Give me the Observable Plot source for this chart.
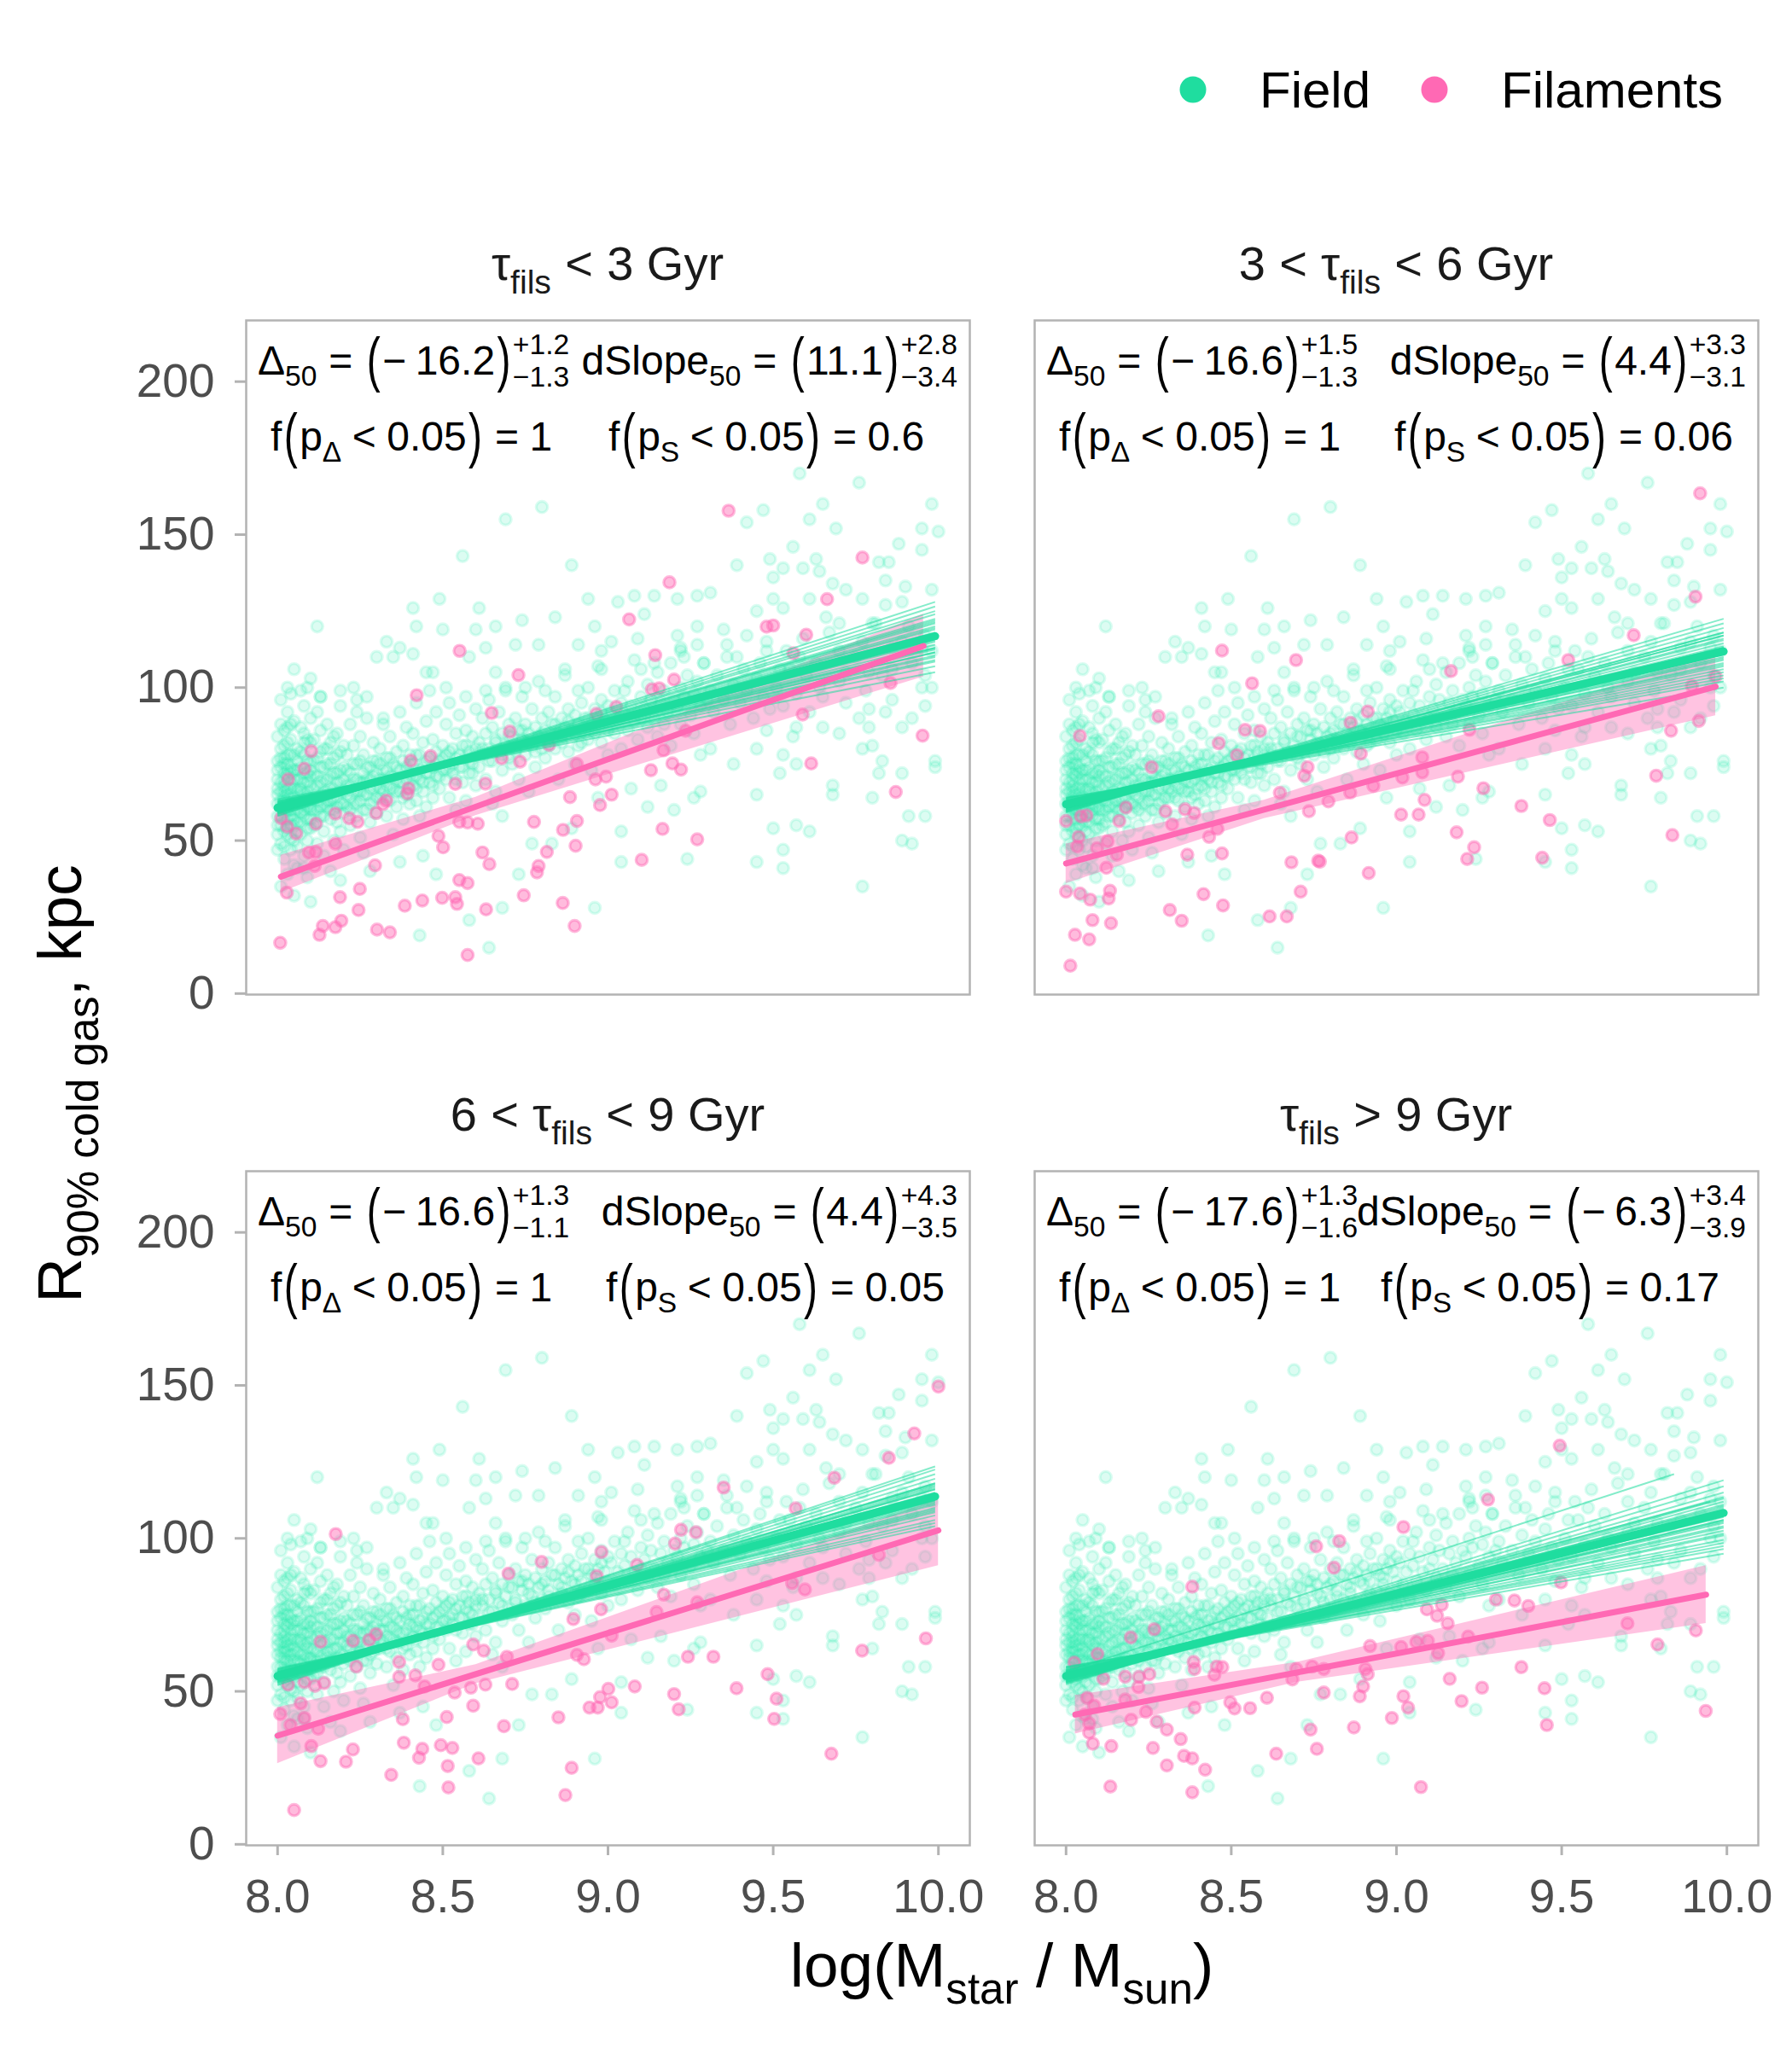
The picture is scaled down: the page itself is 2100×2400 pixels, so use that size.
<!DOCTYPE html>
<html><head><meta charset="utf-8">
<script src="https://cdn.jsdelivr.net/npm/d3@7"></script>
<script src="https://cdn.jsdelivr.net/npm/@observablehq/plot@0.6"></script>
<style>
body{margin:0;background:#fff;}
#root{position:relative;width:2100px;height:2400px;background:#fff;overflow:hidden;}
</style></head>
<body><div id="root"></div>
<script>
// ---------------- DATA ----------------
const xTicks = [8.0, 8.5, 9.0, 9.5, 10.0];
const yTicks = [0, 50, 100, 150, 200];
const seriesNames = ["Field", "Filaments"];
const panelTitles = [["τ", "fils", "< 3 Gyr", null], ["3 <", "τ", "fils", "< 6 Gyr"], ["6 <", "τ", "fils", "< 9 Gyr"], ["τ", "fils", "> 9 Gyr", null]];
const deltaTxt = [["−16.2", "+1.2", "−1.3"], ["−16.6", "+1.5", "−1.3"], ["−16.6", "+1.3", "−1.1"], ["−17.6", "+1.3", "−1.6"]];
const slopeTxt = [["11.1", "+2.8", "−3.4"], ["4.4", "+3.3", "−3.1"], ["4.4", "+4.3", "−3.5"], ["−6.3", "+3.4", "−3.9"]];
const fpDelta = ["1", "1", "1", "1"];
const fpSlope = ["0.6", "0.06", "0.05", "0.17"];

// field galaxies (shared by all four panels): dense core
const fieldCore = [
[8.00,62],[8.00,70],[8.00,55],[8.01,66],[8.01,74],[8.01,58],[8.01,49],[8.01,80],[8.02,63],[8.02,68],[8.02,77],[8.02,53],[8.02,86],[8.02,44],[8.03,60],[8.03,65],[8.03,71],[8.03,57],[8.03,92],[8.03,39],[8.03,75],[8.04,62],[8.04,69],[8.04,51],[8.04,83],[8.04,58],[8.04,47],[8.04,72],[8.05,64],[8.05,60],[8.05,78],[8.05,55],[8.05,67],[8.05,89],[8.00,76],[8.00,47],[8.01,96],[8.02,59],[8.03,82],[8.04,65],[8.00,67],[8.01,61],[8.02,72],[8.03,52],[8.04,98],[8.05,42],[8.01,35],[8.03,100],[8.02,64],[8.04,78],
[8.06,63],[8.06,70],[8.06,56],[8.06,80],[8.06,48],[8.07,66],[8.07,59],[8.07,74],[8.07,87],[8.07,52],[8.08,62],[8.08,69],[8.08,78],[8.08,45],[8.08,94],[8.09,64],[8.09,57],[8.09,72],[8.09,83],[8.09,50],[8.10,61],[8.10,68],[8.10,76],[8.10,54],[8.10,90],[8.06,73],[8.07,67],[8.08,58],[8.09,66],[8.10,71],[8.06,41],[8.08,85],[8.09,38],[8.07,99],[8.10,60],
[8.11,64],[8.11,72],[8.11,55],[8.11,83],[8.12,60],[8.12,68],[8.12,77],[8.12,49],[8.12,92],[8.13,65],[8.13,58],[8.13,74],[8.13,86],[8.14,62],[8.14,70],[8.14,53],[8.14,80],[8.14,45],[8.15,66],[8.15,61],[8.15,75],[8.15,88],[8.16,63],[8.16,71],[8.16,57],[8.16,82],[8.17,67],[8.17,60],[8.17,77],[8.17,50],[8.18,64],[8.18,72],[8.18,85],[8.18,56],[8.19,69],[8.19,62],[8.19,79],[8.19,94],[8.20,66],[8.20,59],[8.20,74],[8.20,47],[8.13,97],[8.16,40],[8.19,53],
[8.21,68],[8.21,61],[8.21,78],[8.22,64],[8.22,72],[8.22,55],[8.22,88],[8.23,70],[8.23,62],[8.23,81],[8.24,66],[8.24,58],[8.24,75],[8.24,96],[8.25,69],[8.25,63],[8.25,84],[8.25,51],[8.26,72],[8.26,65],[8.26,78],[8.27,60],[8.27,70],[8.27,90],[8.28,67],[8.28,74],[8.28,56],[8.29,71],[8.29,63],[8.29,82],[8.30,68],[8.30,76],[8.30,59],[8.26,46],[8.23,100],
[8.31,70],[8.31,64],[8.31,80],[8.32,73],[8.32,66],[8.32,88],[8.33,68],[8.33,58],[8.33,77],[8.34,71],[8.34,63],[8.34,84],[8.35,75],[8.35,67],[8.35,52],[8.36,70],[8.36,79],[8.36,61],[8.37,73],[8.37,92],[8.37,66],[8.38,69],[8.38,81],[8.38,57],[8.39,74],[8.39,65],[8.39,87],[8.40,72],[8.40,62],[8.40,78],
[8.41,75],[8.41,68],[8.41,85],[8.42,71],[8.42,63],[8.42,95],[8.43,78],[8.43,70],[8.43,58],[8.44,74],[8.44,82],[8.44,66],[8.45,72],[8.45,89],[8.45,61],[8.46,77],[8.46,69],[8.46,99],[8.47,74],[8.47,83],[8.47,64],[8.48,79],[8.48,71],[8.48,92],[8.49,76],[8.49,67],[8.50,81],[8.50,73],
[8.51,78],[8.51,70],[8.51,88],[8.52,74],[8.52,64],[8.52,95],[8.53,80],[8.53,72],[8.54,77],[8.54,85],[8.54,60],[8.55,74],[8.55,91],[8.56,81],[8.56,69],[8.57,77],[8.57,86],[8.57,63],[8.58,79],[8.58,72],[8.59,84],[8.59,75],[8.60,80],[8.60,68],[8.60,93],
[8.61,82],[8.61,74],[8.62,78],[8.62,90],[8.63,85],[8.63,70],[8.64,80],[8.64,96],[8.65,76],[8.65,87],[8.66,83],[8.66,66],[8.67,79],[8.67,92],[8.68,85],[8.68,73],[8.69,81],[8.69,100],[8.70,77],[8.70,88],[8.65,62],[8.68,58],
[8.71,84],[8.71,75],[8.72,90],[8.72,80],[8.73,86],[8.73,70],[8.74,83],[8.74,97],[8.75,78],[8.75,88],[8.76,85],[8.76,66],[8.77,81],[8.77,93],[8.78,87],[8.78,74],[8.79,84],[8.79,102],[8.80,80],[8.80,90],
[8.81,86],[8.81,77],[8.82,92],[8.82,83],[8.83,88],[8.84,80],[8.84,97],[8.85,85],[8.85,70],[8.86,90],[8.86,82],[8.87,87],[8.87,104],[8.88,79],[8.88,93],[8.89,86],[8.90,91],[8.90,75],
[8.91,88],[8.91,81],[8.92,95],[8.92,86],[8.93,90],[8.94,83],[8.94,100],[8.95,88],[8.95,73],[8.96,93],[8.96,85],[8.97,90],[8.97,107],[8.98,82],[8.98,96],[8.99,89],[9.00,94],[9.00,78],
[9.01,92],[9.02,85],[9.02,99],[9.03,89],[9.04,95],[9.04,80],[9.05,91],[9.06,102],[9.06,86],[9.07,94],[9.08,89],[9.08,109],[9.09,83],[9.10,97],[9.10,90],
[9.11,93],[9.12,87],[9.12,101],[9.13,96],[9.14,90],[9.15,105],[9.15,84],[9.16,95],[9.17,99],[9.17,88],[9.18,92],[9.19,108],[9.19,81],[9.20,96],
[9.21,94],[9.22,100],[9.22,88],[9.23,97],[9.24,104],[9.25,91],[9.26,98],[9.26,85],[9.27,102],[9.28,94],[9.29,108],[9.30,96],
[9.31,99],[9.32,92],[9.33,104],[9.35,96],[9.36,110],[9.37,88],[9.38,101],[9.40,95],[9.41,106],[9.42,99],[9.44,90],[9.45,103],[9.47,97],[9.48,112],[9.49,93],
[9.51,100],[9.53,94],[9.55,106],[9.57,98],[9.59,116],[9.61,92],[9.63,108],[9.65,97],[9.67,118],[9.70,102],[9.72,95],[9.75,110],[9.78,99],[9.80,121],[9.83,104],[9.86,96],[9.89,115],[9.92,108],[9.95,100],[9.98,112]
];
// more of the crowded low-mass region
const fieldCore2 = [
[8.00,58],[8.00,65],[8.00,73],[8.00,52],[8.00,84],[8.01,63],[8.01,69],[8.01,77],[8.01,55],[8.01,88],[8.02,61],[8.02,66],[8.02,70],[8.02,75],[8.02,81],[8.02,57],[8.02,48],[8.03,63],[8.03,67],[8.03,73],[8.03,78],[8.03,54],[8.03,87],[8.04,60],[8.04,67],[8.04,74],[8.04,55],[8.04,88],[8.05,62],[8.05,70],[8.05,73],[8.05,57],[8.05,50],[8.06,60],[8.06,66],[8.06,76],[8.06,53],[8.07,62],[8.07,70],[8.07,79],[8.07,56],[8.08,65],[8.08,72],[8.08,60],[8.08,82],[8.09,61],[8.09,69],[8.09,76],[8.09,54],[8.10,64],[8.10,73],[8.10,57],[8.10,82],
[8.11,60],[8.11,67],[8.11,76],[8.12,63],[8.12,71],[8.12,56],[8.13,61],[8.13,69],[8.13,79],[8.14,66],[8.14,74],[8.14,58],[8.15,63],[8.15,70],[8.15,80],[8.16,67],[8.16,75],[8.16,60],[8.17,64],[8.17,72],[8.17,84],[8.18,61],[8.18,69],[8.18,78],[8.19,66],[8.19,73],[8.20,62],[8.20,70],[8.20,81],[8.21,65],[8.21,73],[8.22,68],[8.22,60],[8.23,66],[8.23,75],[8.24,62],[8.24,70],[8.25,66],[8.25,76],[8.26,69],[8.26,60],[8.27,65],[8.27,74],[8.28,70],[8.28,62],[8.29,67],[8.29,76],[8.30,64],[8.30,72],
[8.31,67],[8.31,75],[8.32,70],[8.33,64],[8.33,73],[8.34,67],[8.34,77],[8.35,71],[8.36,66],[8.36,74],[8.37,69],[8.38,64],[8.38,76],[8.39,70],[8.40,67],[8.40,75],[8.41,71],[8.42,67],[8.42,78],[8.43,73],[8.44,69],[8.45,76],[8.46,72],[8.47,68],[8.48,75],[8.49,71],[8.50,77],[8.51,73],[8.52,79],[8.53,75],[8.54,70],[8.55,78],[8.56,74],[8.57,81],[8.58,76],[8.59,72],[8.60,78],
[8.62,80],[8.64,76],[8.66,82],[8.68,78],[8.70,84],[8.72,79],[8.74,86],[8.76,82],[8.78,79],[8.80,85],[8.82,81],[8.84,88],[8.86,84],[8.88,89],[8.90,85],[8.92,82],[8.94,90],[8.96,87],[8.98,92],[9.00,86]
];
// field galaxies: individually readable points around the core
const fieldOuter = [
[9.58,170],[9.76,167],[8.69,155],[8.80,159],[9.47,158],[9.65,160],[9.61,155],[9.42,154],[9.98,160],[9.95,152],[10.0,151],[9.69,152],[9.88,147],[9.95,145],[9.56,146],[8.56,143],[8.89,140],[9.39,140],[9.49,142],[9.53,139],[9.59,139],[9.63,142],[9.82,141],[9.85,141],[9.50,136],[9.64,138],[9.68,134],[9.72,132],[9.84,135],[9.90,133],[9.98,132],[8.49,129],[8.41,126],[8.61,126],[9.03,128],[9.08,130],[9.14,130],[9.21,129],[9.27,130],[9.31,131],[9.50,129],[9.53,126],[9.61,129],[9.84,127],[9.89,128],[9.77,129],[8.94,129],[8.12,120],[8.42,120],[8.50,119],[8.60,119],[8.66,120],[8.74,122],[8.84,123],[8.96,120],[9.11,124],[9.21,117],[9.27,120],[9.35,119],[9.42,117],[9.45,125],[9.66,123],[9.70,121],[9.81,121],[9.91,120],[9.96,117],[8.33,115],[8.37,113],[8.30,110],[8.35,110],[8.41,111],[8.58,110],[8.63,113],[8.72,114],[8.79,114],[8.91,114],[8.98,112],[9.01,115],[9.09,116],[9.22,113],[9.23,110],[9.27,114],[9.36,114],[9.48,115],[9.54,112],[9.58,110],[9.70,112],[9.77,115],[9.86,113],[9.95,113],
[8.05,106],[8.10,103],[8.09,100],[8.13,97],[8.19,99],[8.24,92],[8.32,90],[8.27,97],[8.45,105],[8.47,105],[8.51,100],[8.57,97],[8.63,99],[8.66,105],[8.69,99],[8.75,100],[8.81,99],[8.87,106],[8.91,99],[8.98,106],[9.05,99],[9.10,106],[9.14,108],[9.22,112],[9.29,108],[9.39,110],[9.46,108],[9.52,106],[9.60,104],[9.64,100],[9.72,105],[9.79,105],[9.86,106],[9.96,104],[9.98,100],[9.96,94],[9.92,90],[9.79,93],[9.84,92],[9.76,90],[9.79,87],[9.89,87],[9.77,80],[9.80,81],[9.70,85],[9.65,87],[9.57,87],[9.56,84],[9.48,86],[9.45,80],[9.52,72],[9.57,75],[9.53,78],[9.83,76],[9.99,76],[9.99,74],[9.89,72],[9.82,72],[9.68,68],[9.68,65],[9.80,64],[9.96,58],[9.91,58],[9.92,49],[9.89,50],[9.77,35],[9.57,55],[9.61,53],[9.50,54],[9.53,47],[9.53,41],[9.45,43],[9.45,65],[9.38,75],[9.31,80],[9.28,78],[9.26,64],[9.28,66],[9.20,60],[9.24,44],[9.16,68],[9.04,53],[9.04,43],[8.96,28],[9.12,61],[9.07,67],[8.97,64],[8.89,54],[8.83,49],[8.77,49],[8.73,39],[8.68,28],[8.64,15],[8.58,24],[8.43,19],[8.48,39],[8.44,45],[8.37,43],[8.28,40],[8.10,30],[8.05,32],[8.19,37],[8.08,41]
];

// filament galaxies, one list per panel
const filTL = [[9.365,157.8],[9.77,142.5],[9.186,134.4],[9.663,128.9],[9.064,122.3],[9.48,119.9],[9.50,120.3],[9.60,117.3],[8.551,112.0],[9.143,110.6],[9.561,111.2],[8.729,104.1],[9.20,102.6],[9.133,99.4],[9.155,99.8],[9.855,101.5],[8.421,97.5],[8.648,91.7],[9.025,93.7],[8.965,91.4],[9.589,91.2],[9.952,84.3],[8.703,85.6],[9.235,85.9],[8.102,79.2],[8.822,81.3],[8.081,73.5],[8.403,76.1],[8.463,77.6],[8.678,76.9],[8.734,75.8],[8.032,70.0],[9.168,79.5],[9.195,75.2],[9.221,73.2],[9.13,73.0],[9.615,75.2],[8.906,75.0],[8.538,68.5],[8.629,68.6],[8.962,70.0],[8.994,70.9],[8.396,67.1],[8.393,65.4],[8.319,61.9],[8.329,63.1],[8.298,59.0],[8.885,64.2],[9.011,65.0],[8.976,61.6],[9.871,65.9],[8.011,57.3],[8.029,54.6],[8.056,52.3],[8.116,55.5],[8.175,58.8],[8.217,57.3],[8.242,56.1],[8.55,56.1],[8.575,55.9],[8.606,55.5],[8.776,56.1],[8.906,56.4],[8.864,53.5],[9.165,53.8],[9.27,50.4],[8.487,51.5],[8.501,47.8],[8.175,49.0],[8.095,46.1],[8.116,46.3],[8.112,41.7],[8.295,41.9],[8.62,46.1],[8.641,42.3],[8.815,46.3],[8.902,48.3],[8.79,41.7],[8.785,39.6],[9.102,43.7],[8.028,33.0],[8.249,34.2],[8.189,31.5],[8.55,37.1],[8.575,36.1],[8.745,32.1],[8.245,27.3],[8.385,28.7],[8.438,30.4],[8.498,31.3],[8.538,31.5],[8.543,29.3],[8.631,27.5],[8.863,29.6],[8.193,23.8],[8.137,22.1],[8.175,21.7],[8.127,19.2],[8.301,20.9],[8.34,20.0],[8.899,22.1],[8.008,16.6],[8.575,12.6]];
const filTR = [[9.919,163.5],[9.905,129.7],[9.718,117.1],[8.472,112.1],[8.696,109.0],[9.52,109.0],[9.165,105.4],[8.563,101.4],[9.894,100.5],[9.966,103.7],[8.913,92.2],[8.28,90.6],[8.861,88.5],[8.542,86.2],[8.587,85.8],[9.221,86.2],[9.831,85.9],[9.915,89.1],[8.042,84.2],[8.462,81.8],[8.892,78.4],[8.517,77.9],[9.078,77.2],[8.259,74.0],[8.731,74.0],[8.721,71.2],[9.786,71.2],[9.186,70.9],[9.018,70.6],[9.078,72.3],[8.93,67.9],[9.263,67.1],[8.647,65.6],[8.86,65.7],[8.794,62.8],[9.085,63.3],[9.378,61.3],[8.181,60.8],[8.301,59.6],[8.36,60.2],[8.388,59.0],[8.735,59.6],[9.014,58.5],[9.067,58.5],[8.0,56.4],[8.045,57.9],[8.062,58.2],[8.161,56.4],[8.321,55.3],[9.464,56.7],[8.038,51.2],[8.433,51.2],[8.458,53.8],[9.182,52.7],[9.835,51.8],[8.864,51.0],[8.034,48.1],[8.094,47.5],[8.126,49.8],[8.154,45.4],[9.235,47.8],[9.214,44.0],[9.441,44.4],[8.367,45.4],[8.472,45.8],[8.682,42.9],[8.763,43.4],[8.768,43.1],[8.916,39.4],[8.122,41.1],[8.0,33.3],[8.042,32.7],[8.073,30.7],[8.133,33.6],[8.129,31.1],[8.416,32.5],[8.71,33.3],[8.475,28.8],[8.314,27.3],[8.35,23.8],[8.616,25.2],[8.668,25.2],[8.08,24.0],[8.136,23.0],[8.027,19.2],[8.07,17.7],[8.013,9.1]];
const filBL = [[10.0,149.6],[9.927,134.3],[9.85,126.3],[9.685,119.8],[9.35,116.6],[9.568,109.8],[8.176,101.4],[9.221,102.8],[9.266,102.0],[9.203,98.3],[8.98,95.5],[8.799,92.3],[8.699,88.5],[9.088,91.3],[8.966,87.7],[9.82,94.6],[9.557,85.4],[9.596,83.3],[9.169,81.6],[8.979,76.8],[8.895,73.6],[9.147,75.9],[9.27,79.1],[9.011,68.2],[8.13,66.2],[8.228,66.5],[8.277,66.8],[8.298,68.7],[8.592,65.3],[8.624,63.3],[9.769,63.3],[9.962,67.3],[9.242,61.3],[9.319,61.3],[8.906,61.9],[8.927,60.5],[8.694,61.3],[8.368,59.6],[8.487,58.7],[8.238,58.1],[8.368,54.7],[8.417,55.2],[8.032,52.2],[8.081,53.0],[8.113,51.8],[8.141,52.7],[8.445,51.6],[8.536,49.6],[8.585,51.2],[8.629,52.2],[8.71,52.4],[9.081,51.6],[9.2,49.1],[9.389,51.0],[9.483,55.6],[9.001,50.8],[8.976,48.1],[9.011,46.4],[8.07,46.1],[9.51,47.6],[8.592,45.3],[8.944,44.7],[8.969,44.7],[9.214,44.1],[8.008,42.6],[8.081,41.3],[8.039,39.0],[8.123,37.8],[8.379,40.9],[8.512,41.6],[8.85,41.5],[8.685,38.6],[9.503,41.0],[8.102,32.1],[8.228,31.0],[8.13,27.2],[8.207,27.0],[8.382,33.2],[8.438,31.2],[8.494,32.4],[8.529,31.5],[8.428,28.3],[8.608,28.1],[8.515,25.6],[9.676,29.6],[8.344,22.7],[8.89,25.0],[8.517,18.6],[8.871,16.1],[8.05,11.2]];
const filBR = [[9.494,130.3],[9.277,112.7],[9.021,103.7],[8.757,97.4],[8.827,99.1],[8.811,90.4],[8.382,84.2],[9.498,85.6],[9.301,80.0],[9.357,79.7],[9.399,77.9],[9.092,76.8],[9.137,78.3],[9.123,74.7],[9.155,72.2],[9.699,72.2],[9.906,69.9],[9.79,65.3],[8.267,70.3],[8.196,67.6],[8.92,64.8],[9.014,64.5],[9.06,66.1],[9.095,66.5],[9.126,62.5],[9.217,67.9],[8.025,59.4],[8.095,62.2],[8.386,59.6],[8.389,57.3],[8.456,58.1],[8.473,57.9],[8.449,55.4],[9.378,57.9],[8.697,57.3],[8.745,58.1],[8.78,57.3],[8.906,57.3],[8.913,55.6],[8.113,54.1],[8.179,54.8],[8.221,54.7],[8.252,55.6],[8.219,51.4],[8.685,53.9],[9.161,54.1],[9.259,51.2],[9.448,51.0],[8.899,51.6],[8.78,49.6],[8.889,48.4],[9.021,48.4],[8.608,47.9],[8.064,47.9],[8.179,47.3],[8.389,44.7],[8.497,46.4],[8.51,44.4],[8.557,44.5],[8.085,45.3],[9.035,44.7],[9.197,46.8],[8.057,42.4],[8.242,43.3],[9.936,43.6],[8.197,40.7],[8.274,40.1],[8.07,39.5],[8.986,41.3],[9.455,39.0],[8.305,37.5],[8.74,37.5],[8.871,38.2],[8.07,36.5],[8.347,34.4],[8.081,32.9],[8.137,32.1],[8.263,31.5],[8.759,31.2],[8.636,29.6],[8.357,28.9],[8.382,28.1],[8.305,25.8],[8.421,24.4],[8.134,18.9],[8.382,17.0],[9.074,18.7]];

// field fits (median) per panel: [x, y]
const fieldFitTL = [[8.0,60.7],[9.99,116.8]];
const fieldFitTR = [[8.0,61.9],[9.99,111.8]];
const fieldFitBL = [[8.0,55.0],[9.99,113.7]];
const fieldFitBR = [[8.0,55.0],[9.99,108.3]];
// filament fits per panel
const filFitTL = [[8.01,38.2],[9.955,113.6]];
const filFitTR = [[8.0,42.5],[9.966,100.3]];
const filFitBL = [[8.0,35.5],[10.0,102.6]];
const filFitBR = [[8.028,42.4],[9.937,81.6]];
// filament fit confidence ribbons: [x, low, high]
const ribbonTL = [[8.01,33.0,45.2],[8.6,58.2,64.2],[9.955,103.5,124.0]];
const ribbonTR = [[8.0,35.9,48.9],[8.6,57.2,63.2],[9.966,90.8,111.5]];
const ribbonBL = [[8.0,26.4,44.7],[8.6,52.5,58.7],[10.0,91.1,112.9]];
const ribbonBR = [[8.028,36.1,48.7],[8.7,53.0,59.5],[9.937,72.2,91.1]];
// resampled field fits: [y at 8.0, y at end, end x (optional)]
const bootTL = [[63.5,105],[63,107],[62.5,108.5],[62,110],[61.8,111.5],[61.5,112.5],[61.2,114],[61,115],[60.8,116],[60.5,117],[60.2,118],[60,119],[59.8,120],[59.5,121],[59.2,122.5],[59,124],[58.7,125],[58.3,126.5],[58,128],[62.2,113],
  [62.8,109],[61.6,110.5],[60.9,113],[60.3,115.5],[59.6,117.5],[59.1,119.5],[58.8,122],[60.1,121.5],[61.3,116.5],[62.4,111.5]];
const bootTR = [[64,100],[63.6,102],[63.2,104],[62.8,106],[62.5,107.5],[62.2,109],[62,110],[61.8,111],[61.5,112],[61.2,113.5],[61,114.5],[60.7,115.5],[60.4,117],[60.1,118],[59.8,119.5],[59.5,121],[59.2,122.5],[61.4,108],[62.6,112],[60.5,113],
  [63.8,103],[62.9,105],[62.1,107],[61.6,109.5],[61.1,111.5],[60.6,113],[60.2,116],[59.7,118],[61.9,113],[60.9,117]];
const bootBL = [[57.5,104],[57,106],[56.6,107.5],[56.2,109],[55.9,110],[55.6,111],[55.3,112],[55,113],[54.8,114],[54.5,115],[54.2,116],[53.9,117],[53.6,118],[53.2,119.5],[52.8,121],[52.4,122.5],[52,123.5],[56,112.5],[54,113.5],[55.4,116],
  [57.2,105],[56.4,108.5],[55.7,109.5],[55.1,111.5],[54.6,112.5],[54.1,114.5],[53.4,116.5],[53,118],[55.2,117.5],[56.2,114]];
const bootBR = [[58,95],[57.6,97.5],[57.2,99.5],[56.8,101],[56.4,102.5],[56,104],[55.7,105],[55.4,106],[55.1,107],[54.8,108],[54.5,109],[54.2,110.5],[53.9,112],[53.5,113.5],[53.1,115],[52.7,117],[52.3,119],[55.8,110],[54,106],[56.5,121,9.84],
  [57.8,96.5],[57,98.5],[56.2,101.5],[55.5,103.5],[55,105.5],[54.3,107.5],[53.7,109.5],[53.3,111],[52.9,113],[55.2,112,9.95]];

// ---------------- STYLE / LAYOUT ----------------
const FONT = '"Liberation Sans", Arial, Helvetica, sans-serif';
const GREEN = "#1fdd9f", PTGREEN = "#30eeb3", PINK = "#ff69b4";
const BORDER = "#b3b3b3", TICKTXT = "#4d4d4d";
const PW = 848, PH = 790;
const panels = [
  {left: 288, top: 375, xAxis: false, yAxis: true, fil: filTL, ff: fieldFitTL, pf: filFitTL, rib: ribbonTL, boot: bootTL, l2: 425},
  {left: 1212, top: 375, xAxis: false, yAxis: false, fil: filTR, ff: fieldFitTR, pf: filFitTR, rib: ribbonTR, boot: bootTR, l2: 422},
  {left: 288, top: 1372, xAxis: true, yAxis: true, fil: filBL, ff: fieldFitBL, pf: filFitBL, rib: ribbonBL, boot: bootBL, l2: 422},
  {left: 1212, top: 1372, xAxis: true, yAxis: false, fil: filBR, ff: fieldFitBR, pf: filFitBR, rib: ribbonBR, boot: bootBR, l2: 406}
];
const fieldPts = fieldCore.concat(fieldCore2, fieldOuter);
const root = document.getElementById("root");

panels.forEach(p => {
  const mL = p.yAxis ? 288 : 30, mR = 30, mT = 30, mB = p.xAxis ? 140 : 30;
  const marks = [
    Plot.dot(fieldPts, {x: d => d[0], y: d => d[1], r: 6.7, fill: PTGREEN, fillOpacity: 0.17, stroke: PTGREEN, strokeOpacity: 0.17, strokeWidth: 3.3}),
    Plot.dot(p.fil, {x: d => d[0], y: d => d[1], r: 6.7, fill: PINK, fillOpacity: 0.45, stroke: PINK, strokeOpacity: 0.45, strokeWidth: 3.3}),
    Plot.areaY(p.rib, {x: d => d[0], y1: d => d[1], y2: d => d[2], fill: PINK, fillOpacity: 0.4}),
    Plot.link(p.boot, {x1: () => 8.0, y1: d => d[0], x2: d => (d[2] ?? 9.99), y2: d => d[1], stroke: GREEN, strokeOpacity: 0.55, strokeWidth: 2}),
    Plot.line(p.ff, {x: d => d[0], y: d => d[1], stroke: GREEN, strokeWidth: 9.5}),
    Plot.line(p.pf, {x: d => d[0], y: d => d[1], stroke: PINK, strokeWidth: 7}),
    Plot.frame({stroke: BORDER, strokeWidth: 2.5})
  ];
  if (p.yAxis) marks.push(Plot.axisY(yTicks, {tickSize: 13, tickPadding: 24, fontSize: 55, stroke: BORDER, strokeWidth: 3, fill: TICKTXT, label: null}));
  if (p.xAxis) marks.push(Plot.axisX(xTicks, {tickSize: 12, tickPadding: 27, fontSize: 55, stroke: BORDER, strokeWidth: 3, fill: TICKTXT, label: null, tickFormat: d => d.toFixed(1)}));
  const svg = Plot.plot({
    width: PW + mL + mR, height: PH + mT + mB,
    marginLeft: mL, marginRight: mR, marginTop: mT, marginBottom: mB,
    x: {domain: [7.905, 10.095], axis: null},
    y: {domain: [-0.33, 220], axis: null},
    style: {fontFamily: FONT, background: "transparent", overflow: "visible"},
    marks
  });
  svg.style.position = "absolute";
  svg.style.left = (p.left - mL) + "px";
  svg.style.top = (p.top - mT) + "px";
  root.appendChild(svg);
});

// ---------------- TEXT OVERLAY ----------------
const overlay = d3.select(root).append("svg")
  .attr("width", 2100).attr("height", 2400)
  .style("position", "absolute").style("left", "0px").style("top", "0px")
  .style("font-family", FONT).style("pointer-events", "none");

function rich(pieces, o) {
  const size = o.size;
  const g = overlay.append("g").attr("fill", o.fill || "#000");
  const inner = g.append("g");
  let cx = 0;
  const put = (t, fs, dy) => inner.append("text").attr("x", cx).attr("y", dy).attr("font-size", fs).text(t);
  for (let p of pieces) {
    if (typeof p === "string") p = {t: p};
    if (p.gap != null) { cx += p.gap * size; continue; }
    if (p.t != null) { const e = put(p.t, size, 0); cx += e.node().getComputedTextLength(); continue; }
    if (p.sub != null) { const e = put(p.sub, size * 0.7, size * 0.28); cx += e.node().getComputedTextLength(); continue; }
    if (p.hi != null) {
      const a = put(p.hi, size * 0.7, -size * 0.5), b = put(p.lo, size * 0.7, size * 0.3);
      cx += Math.max(a.node().getComputedTextLength(), b.node().getComputedTextLength()); continue;
    }
    if (p.paren != null) {
      cx += size * 0.05;
      const c = -size * 0.3;
      const e = inner.append("text").attr("font-size", size)
        .attr("transform", `translate(${cx},${c}) scale(1,1.45) translate(0,${-c})`).text(p.paren);
      cx += e.node().getComputedTextLength() + size * 0.05; continue;
    }
  }
  const off = o.anchor === "middle" ? cx / 2 : o.anchor === "end" ? cx : 0;
  inner.attr("transform", `translate(${-off},0)`);
  g.attr("transform", o.rotate ? `translate(${o.x},${o.y}) rotate(-90)` : `translate(${o.x},${o.y})`);
}

const G = 0.29, G2 = 0.26;
panels.forEach((p, i) => {
  // facet title
  const tt = panelTitles[i];
  let pcs;
  if (tt[0] === "τ") pcs = [{t: "τ"}, {sub: "fils"}, {gap: G}, {t: tt[2].slice(0, 1)}, {gap: G}, {t: tt[2].slice(2)}];
  else pcs = [{t: tt[0].slice(0, 1)}, {gap: G}, {t: "<"}, {gap: G}, {t: "τ"}, {sub: "fils"}, {gap: G}, {t: "<"}, {gap: G}, {t: tt[3].slice(2)}];
  const ttlY = p.top < 1000 ? 328 : 1325;
  rich(pcs, {x: p.left + PW / 2, y: ttlY, size: 56, anchor: "middle", fill: "#1a1a1a"});

  const A = 48;
  const b1 = p.top + 64, b2 = p.top + 153;
  const dl = deltaTxt[i], sl = slopeTxt[i];
  const num = s => s.startsWith("−") ? [{t: "−"}, {gap: 0.22}, {t: s.slice(1)}] : [{t: s}];
  rich([{t: "Δ"}, {sub: "50"}, {gap: G}, {t: "="}, {gap: G}, {paren: "("}, ...num(dl[0]), {paren: ")"}, {hi: dl[1], lo: dl[2]}],
       {x: p.left + 14, y: b1, size: A});
  rich([{t: "dSlope"}, {sub: "50"}, {gap: G}, {t: "="}, {gap: G}, {paren: "("}, ...num(sl[0]), {paren: ")"}, {hi: sl[1], lo: sl[2]}],
       {x: p.left + PW - 14, y: b1, size: A, anchor: "end"});
  rich([{t: "f"}, {paren: "("}, {t: "p"}, {sub: "Δ"}, {gap: G2}, {t: "<"}, {gap: G2}, {t: "0.05"}, {paren: ")"}, {gap: G2}, {t: "="}, {gap: G2}, {t: fpDelta[i]}],
       {x: p.left + 29, y: b2, size: A});
  rich([{t: "f"}, {paren: "("}, {t: "p"}, {sub: "S"}, {gap: G2}, {t: "<"}, {gap: G2}, {t: "0.05"}, {paren: ")"}, {gap: G2}, {t: "="}, {gap: G2}, {t: fpSlope[i]}],
       {x: p.left + p.l2, y: b2, size: A});
});

// axis titles
rich([{t: "log(M"}, {sub: "star"}, {gap: 0.28}, {t: "/"}, {gap: 0.28}, {t: "M"}, {sub: "sun"}, {t: ")"}], {x: 1174, y: 2328, size: 73, anchor: "middle"});
rich([{t: "R"}, {sub: "90% cold gas"}, {t: ", kpc"}], {x: 95, y: 1270, size: 73, anchor: "middle", rotate: true});

// legend
const legend = [{name: seriesNames[0], color: GREEN, cx: 1398, tx: 1476}, {name: seriesNames[1], color: PINK, cx: 1681, tx: 1759}];
legend.forEach(l => {
  overlay.append("circle").attr("cx", l.cx).attr("cy", 105).attr("r", 15.5).attr("fill", l.color);
  rich([{t: l.name}], {x: l.tx, y: 126, size: 60});
});
</script>
</body></html>
